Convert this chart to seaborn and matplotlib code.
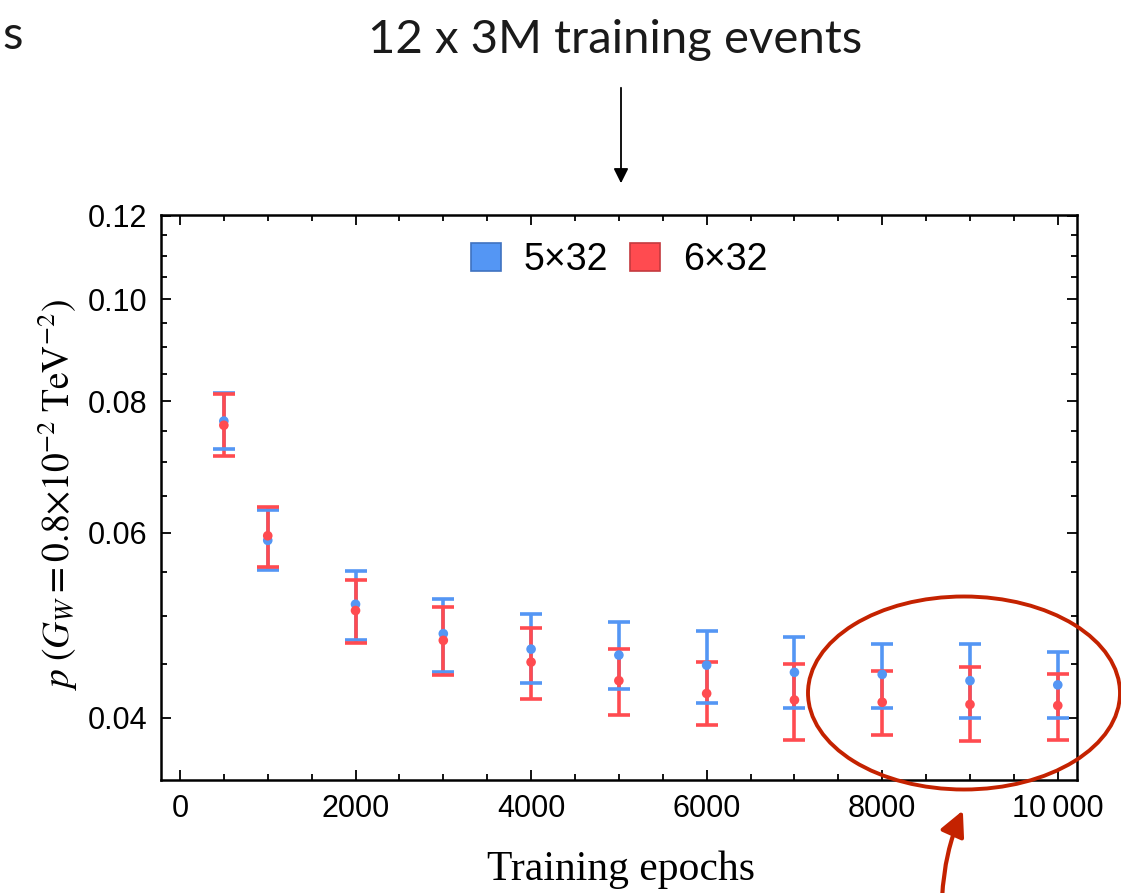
import numpy as np
import pandas as pd
import matplotlib
matplotlib.use("Agg")
import matplotlib.pyplot as plt
import seaborn as sns
from matplotlib.patches import Patch, Ellipse, FancyArrowPatch
from matplotlib.ticker import FixedLocator, FixedFormatter, NullFormatter

# ---- data ----
epochs = [500, 1000, 2000, 3000, 4000, 5000, 6000, 7000, 8000, 9000, 10000]

blue_mid = [0.0766, 0.0590, 0.0513, 0.0481, 0.0465, 0.0459, 0.0449, 0.0442, 0.0440, 0.0434, 0.0430]
blue_lo  = [0.0720, 0.0553, 0.0474, 0.0442, 0.0432, 0.0426, 0.0413, 0.0409, 0.0409, 0.0400, 0.0400]
blue_hi  = [0.0814, 0.0630, 0.0552, 0.0519, 0.0502, 0.0493, 0.0484, 0.0477, 0.0470, 0.0470, 0.0462]

red_mid = [0.0759, 0.0596, 0.0506, 0.0474, 0.0452, 0.0434, 0.0422, 0.0416, 0.0414, 0.0412, 0.0411]
red_lo  = [0.0710, 0.0557, 0.0471, 0.0439, 0.0417, 0.0403, 0.0394, 0.0381, 0.0385, 0.0380, 0.0381]
red_hi  = [0.0812, 0.0635, 0.0541, 0.0510, 0.0487, 0.0465, 0.0452, 0.0450, 0.0443, 0.0447, 0.0440]

series_names = ["5\u00d732", "6\u00d732"]
y_ticks = [0.04, 0.06, 0.08, 0.10, 0.12]
y_ticklabels = ["0.04", "0.06", "0.08", "0.10", "0.12"]
x_ticks = [0, 2000, 4000, 6000, 8000, 10000]
x_ticklabels = ["0", "2000", "4000", "6000", "8000", "10\u2009000"]

BLUE = "#5496F4"
RED = "#FF4B50"
BLUE_EDGE = "#3F72C0"
RED_EDGE = "#C43A3E"

df = pd.DataFrame({
    "epoch": epochs * 2,
    "p": blue_mid + red_mid,
    "lo": blue_lo + red_lo,
    "hi": blue_hi + red_hi,
    "model": [series_names[0]] * len(epochs) + [series_names[1]] * len(epochs),
})

sns.set_theme(style="ticks")
plt.rcParams["font.family"] = ["Liberation Sans", "DejaVu Sans"]
plt.rcParams["mathtext.fontset"] = "stix"
for k in ["text.color", "axes.labelcolor", "xtick.color", "ytick.color",
          "xtick.labelcolor", "ytick.labelcolor"]:
    plt.rcParams[k] = "black"

W, H = 1121, 893
fig = plt.figure(figsize=(W / 100, H / 100), dpi=100)
L, R, T, B = 161, 1077, 215, 780
ax = fig.add_axes([L / W, 1 - B / H, (R - L) / W, (B - T) / H])

colors = {series_names[0]: BLUE, series_names[1]: RED}
zb = {series_names[0]: 2, series_names[1]: 3}
zc = {series_names[0]: 4, series_names[1]: 5}
for name in series_names:
    sub = df[df.model == name]
    yerr = np.vstack([sub.p - sub.lo, sub.hi - sub.p])
    _, caps, bars = ax.errorbar(sub.epoch, sub.p, yerr=yerr, fmt="none",
                                ecolor=colors[name], elinewidth=2.6,
                                capsize=8, capthick=2.6)
    for c in caps:
        c.set_zorder(zc[name])
    for b in bars:
        b.set_zorder(zb[name])

sns.scatterplot(data=df, x="epoch", y="p", hue="model", palette=colors,
                s=48, edgecolor="none", legend=False, ax=ax, zorder=6)

ax.set_yscale("log")
ax.set_xlim(-216, 10219)
ax.set_ylim(0.03492, 0.12025)

ax.yaxis.set_major_locator(FixedLocator(y_ticks))
ax.yaxis.set_major_formatter(FixedFormatter(y_ticklabels))
ax.yaxis.set_minor_locator(FixedLocator([0.045, 0.05, 0.055, 0.065, 0.07, 0.075,
                                         0.085, 0.09, 0.095, 0.105, 0.11, 0.115]))
ax.yaxis.set_minor_formatter(NullFormatter())
ax.xaxis.set_major_locator(FixedLocator(x_ticks))
ax.xaxis.set_major_formatter(FixedFormatter(x_ticklabels))
ax.xaxis.set_minor_locator(FixedLocator(np.arange(500, 10001, 500)))

ax.tick_params(which="both", direction="in", top=True, right=True, color="black",
               width=1.3)
ax.tick_params(which="major", length=7, labelsize=22, pad=10)
ax.tick_params(which="minor", length=4)
for s in ax.spines.values():
    s.set_linewidth(1.8)
    s.set_color("black")
ax.set_xlabel("")
ax.set_ylabel("")
ax.grid(False)

handles = [Patch(facecolor=BLUE, edgecolor=BLUE_EDGE, linewidth=1.2, label=series_names[0]),
           Patch(facecolor=RED, edgecolor=RED_EDGE, linewidth=1.2, label=series_names[1])]
ax.legend(handles=handles, loc="center", bbox_to_anchor=(0.5, 1 - 45 / (B - T)),
          ncol=2, frameon=False, fontsize=27, handlelength=0.8, handleheight=0.8,
          handletextpad=0.6, columnspacing=0.6, borderaxespad=0)

# axis labels
fig.text(621 / W, 1 - 870 / H, "Training epochs", ha="center", va="center",
         fontsize=30, family=["Liberation Serif", "DejaVu Serif"])
fig.text(58 / W, 1 - 495 / H,
         r"$p\;(G_W = 0.8{\times}10^{-2}\;\mathrm{TeV}^{-2})$",
         ha="center", va="center", rotation=90, fontsize=27)

# slide annotations
fig.text(615 / W, 1 - 40 / H, "12 x 3M training events", ha="center", va="center",
         fontsize=34, fontweight="normal", color="#1a1a1a",
         family=["Lato", "DejaVu Sans"])
fig.text(2 / W, 1 - 36 / H, "s", ha="left", va="center",
         fontsize=34, fontweight="normal", color="#1a1a1a",
         family=["Lato", "DejaVu Sans"])
fig.patches.append(FancyArrowPatch((621 / W, 1 - 85 / H), (621 / W, 1 - 186 / H),
                                   transform=fig.transFigure, arrowstyle="-|>",
                                   mutation_scale=22, color="black", lw=1.3))
fig.patches.append(Ellipse((964 / W, 1 - 693 / H), 312 / W, 193 / H,
                           transform=fig.transFigure, fill=False,
                           edgecolor="#C42200", lw=2.8, zorder=10))
fig.patches.append(FancyArrowPatch((942 / W, 1 - 900 / H), (964 / W, 1 - 808 / H),
                                   transform=fig.transFigure, arrowstyle="-|>",
                                   connectionstyle="arc3,rad=-0.1",
                                   mutation_scale=38, color="#C42200", lw=3.0))

fig.savefig("out.png", dpi=100)
